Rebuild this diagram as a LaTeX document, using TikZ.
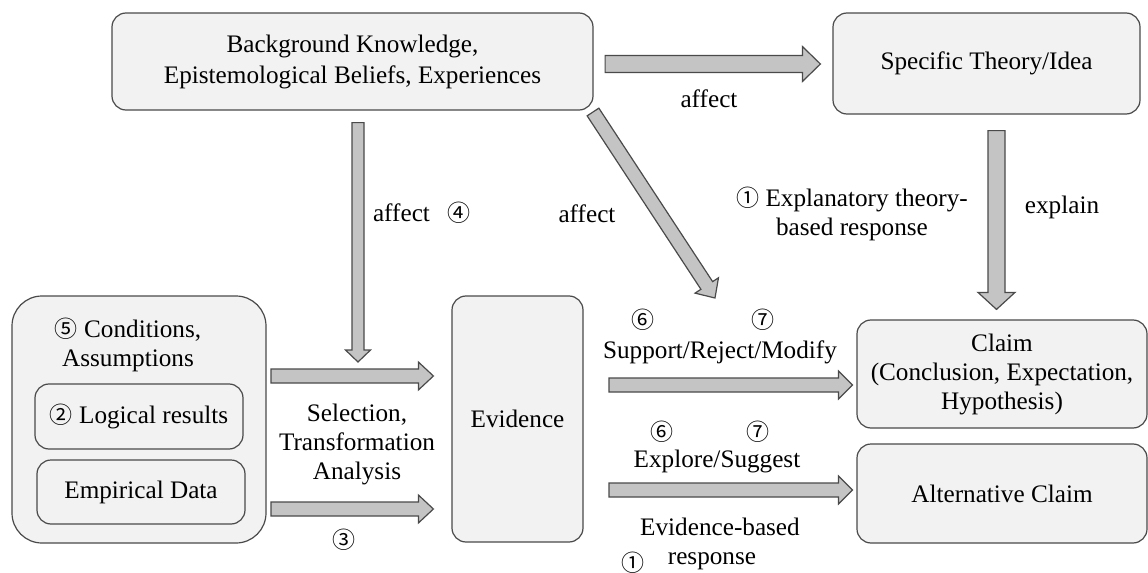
\documentclass[tikz,border=0pt]{standalone}
\usepackage{fontspec}
\setmainfont{Liberation Serif}
\newfontfamily\circfont{Noto Sans CJK SC}
\usetikzlibrary{calc,positioning}

\definecolor{boxfill}{HTML}{F2F2F2}
\definecolor{arrowfill}{HTML}{C4C4C4}
\definecolor{edgegray}{HTML}{4A4A4A}

\newcommand{\cnum}[1]{{\circfont\fontsize{11.5}{12}\selectfont #1}}
% block arrow from #1 to #2, half shaft #3, half head #4, head length #5 (pt)
\newcommand{\fatarrow}[5]{%
  \path[fat] ($(#1)!#3pt!90:(#2)$)
    -- ($(#2)!#5pt!(#1)!#3pt!-90:(#1)$)
    -- ($(#2)!#5pt!(#1)!#4pt!-90:(#1)$)
    -- (#2)
    -- ($(#2)!#5pt!(#1)!#4pt!90:(#1)$)
    -- ($(#2)!#5pt!(#1)!#3pt!90:(#1)$)
    -- ($(#1)!#3pt!-90:(#2)$) -- cycle;}

\begin{document}
\begin{tikzpicture}[x=0.5pt,y=-0.5pt,font=\rmfamily\fontsize{12.6}{14.5}\selectfont]
		\tikzstyle{box}=[draw=edgegray,fill=boxfill,rounded corners=7pt,align=center,inner sep=0pt,line width=0.6pt]
		\tikzstyle{note}=[align=center,inner sep=0pt]
		\tikzstyle{fat}=[draw=edgegray,fill=arrowfill,line width=0.6pt,line join=miter]
		
		\useasboundingbox (0,0) rectangle (1148,573);
		
		\node[box,minimum width=240.5pt,minimum height=48.5pt,font=\rmfamily\fontsize{12.6}{15.5}\selectfont] (bg) at (352.5,61.5) {Background Knowledge,\\Epistemological Beliefs, Experiences};
		\node[box,minimum width=153.5pt,minimum height=50.5pt] (theory) at (986.5,63.5) {Specific Theory/Idea};
		\node[box,minimum width=127pt,minimum height=123.5pt,rounded corners=15pt] (cond) at (139,419.5) {};
		\node[note] (condtxt) at (128,345) {\cnum{⑤} Conditions,\\Assumptions};
		\node[box,minimum width=104pt,minimum height=32.5pt] (logic) at (139,416.5) {\cnum{②} Logical results};
		\node[box,minimum width=104pt,minimum height=32pt] (data) at (141,492) {Empirical Data};
		\node[box,minimum width=65.5pt,minimum height=123pt] (evid) at (517.5,419) {Evidence};
		\node[box,minimum width=145pt,minimum height=54pt] (claim) at (1002,374) {Claim\\(Conclusion, Expectation,\\Hypothesis)};
		\node[box,minimum width=145pt,minimum height=49.5pt] (alt) at (1002,493.5) {Alternative Claim};
		
		% arrow ends
		\coordinate (a1) at ([shift={(11.5,2.5)}]bg.east);
		\coordinate (b1) at ([shift={(-12,0.5)}]theory.west);
		\coordinate (a2) at ([shift={(5.5,12)}]bg.south);
		\coordinate (b2) at (358,362);
		\coordinate (a3) at (593,112);
		\coordinate (b3) at (715,298);
		\coordinate (a4) at ([shift={(10,16)}]theory.south);
		\coordinate (b4) at ([shift={(-5.5,-10)}]claim.north);
		\coordinate (a5) at (271,376);
		\coordinate (b5) at ([xshift=-9]evid.west|-a5);
		\coordinate (a6) at (271,509);
		\coordinate (b6) at ([xshift=-9]evid.west|-a6);
		\coordinate (a7) at (609,385);
		\coordinate (b7) at ([xshift=-2]claim.west|-a7);
		\coordinate (a8) at (609,490);
		\coordinate (b8) at ([xshift=-2]alt.west|-a8);
		
		\foreach \i/\w/\h/\l in {1/4.25/8.75/9,2/3/6.25/6,3/3.5/7/7.5,4/4.25/9.25/8.5,
			5/3.5/7/7.5,6/3.5/7/7.5,7/3.5/7/7,8/3.5/7/7}
		\fatarrow{a\i}{b\i}{\w}{\h}{\l};
		
		\node[note] (aff1) at (709,99) {affect};
		\node[note] (aff2) at (422,213) {affect\hspace{9pt}\cnum{④}};
		\node[note] (aff3) at (587,214) {affect};
		\node[note] (expl) at (1062,207) {explain};
		\node[note] (theoresp) at (852,214) {\cnum{①} Explanatory theory-\\based response};
		\node[note] (six1) at (643,320) {\cnum{⑥}};
		\node[note] (seven1) at (763,320) {\cnum{⑦}};
		\node[note] (srm) at (720,352) {Support/Reject/Modify};
		\node[note] (six2) at (662,432) {\cnum{⑥}};
		\node[note] (seven2) at (758,432) {\cnum{⑦}};
		\node[note] (expsug) at (717,461) {Explore/Suggest};
		\node[note] (evbased) at (720,527) {Evidence-based};
		\node[note] (one2) at (633,563) {\cnum{①}};
		\node[note] (resp) at (712,561) {response};
		\node[note] (sel) at (357,444) {Selection,\\Transformation\\Analysis};
		\node[note] (three) at (344,540) {\cnum{③}};
		
	\end{tikzpicture}
\end{document}
